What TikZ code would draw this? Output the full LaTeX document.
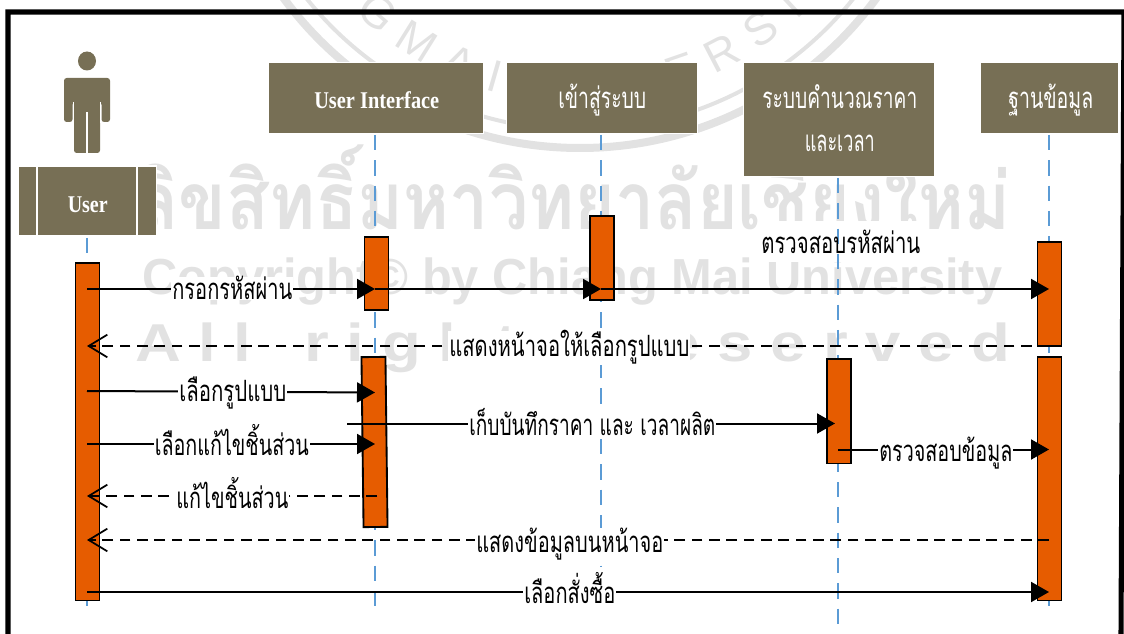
\documentclass[tikz,border=0pt]{standalone}
\usepackage{fontspec}
\usepackage{graphicx}
\usetikzlibrary{arrows.meta}
\setmainfont{Liberation Serif}
\newfontfamily\thaifont[Script=Thai]{Loma}
\newfontfamily\wmsans{Liberation Sans}
\definecolor{hdrcol}{HTML}{776F55}
\definecolor{barcol}{HTML}{E65C00}
\definecolor{lifecol}{HTML}{5B9BD5}
\definecolor{wmcol}{HTML}{E2E2E2}
\newcommand{\fitw}[2]{\resizebox{\dimexpr #1pt*3/4\relax}{\height}{#2}}
\tikzset{
  hdr/.style={fill=hdrcol,draw=white,line width=0.8pt,inner sep=0pt,anchor=north west},
  bar/.style={fill=barcol,draw=black,line width=1.4pt,inner sep=0pt,anchor=north west,minimum width=24*0.75pt},
  life/.style={draw=lifecol,line width=1.1pt,dash pattern=on 11.5pt off 7.5pt},
  msg/.style={draw=black,line width=1.5pt,-{Triangle[length=13.5pt,width=15pt]}},
  ret/.style={draw=black,line width=1.3pt,dash pattern=on 8pt off 5pt,-{Straight Barb[length=14pt,width=17pt,line width=1.3pt]}},
  lab/.style={fill=white,inner xsep=0.8pt,inner ysep=0pt,anchor=base west,font=\thaifont\fontsize{22}{22}\selectfont,text=black},
  htxt/.style={inner sep=0pt,anchor=base west,font=\thaifont\fontsize{22}{22}\selectfont,text=white},
  ltxt/.style={inner sep=0pt,anchor=base west,font=\bfseries\fontsize{18}{18}\selectfont,text=white},
  wm/.style={inner sep=0pt,anchor=base west,text=wmcol},
  seal/.style={draw=wmcol,line width=6pt},
  sealch/.style={inner sep=0pt,text=wmcol,font=\wmsans\fontsize{34}{34}\selectfont},
}
\begin{document}
\begin{tikzpicture}[x=0.75pt,y=-0.75pt]
\useasboundingbox (0,0) rectangle (1124,634);
% --- watermark ---
\begin{scope}
\clip (0,0) rectangle (1124,634);
\draw[seal] (580,-220) circle[radius=368*0.75pt];
\draw[seal,line width=3pt] (580,-220) circle[radius=350*0.75pt];
\foreach \ch/\ang in {G/-41,M/-32,A/-23,I/-16,U/-8,N/0,I/6,V/12,E/19,R/27.5,S/36,I/43}{
  \pgfmathsetmacro{\sx}{580+308*sin(\ang)}
  \pgfmathsetmacro{\sy}{-220+308*cos(\ang)}
  \node[sealch,rotate=\ang] at (\sx,\sy) {\ch};
}
\end{scope}
\node[wm,font=\thaifont\bfseries\fontsize{60}{60}\selectfont] (wm1) at (136,230) {\fitw{874}{ลิขสิทธิ์มหาวิทยาลัยเชียงใหม่}};
\node[wm,font=\wmsans\bfseries\fontsize{38}{38}\selectfont] (wm2) at (142,295) {\fitw{860}{Copyright© by Chiang Mai University}};
\node[wm,font=\wmsans\bfseries\fontsize{40}{40}\selectfont] (wm3) at (135,362) {\fitw{875}{A l l \ \ r i g h t s \ \ r e s e r v e d}};
% --- mask behind the label over the calculation lifeline ---
\fill[white] (758,221) rectangle (918,262);
% --- lifeline end points ---
\coordinate (uEnd) at (87,606);
\coordinate (iEnd) at (375,606);
\coordinate (lEnd) at (601,566);
\coordinate (cEnd) at (838,634);
\coordinate (dEnd) at (1049,606);
\coordinate (uTop) at (87,238);
\coordinate (iTop) at (375,135);
\coordinate (lTop) at (601,135);
\coordinate (cTop) at (838,178);
\coordinate (dTop) at (1049,135);
\draw[life] (uTop) -- (uEnd);
\draw[life] (iTop) -- (iEnd);
\draw[life] (lTop) -- (lEnd);
\draw[life] (cTop) -- (cEnd);
\draw[life] (dTop) -- (dEnd);
% --- activation bars ---
\node[bar,minimum height=337*0.75pt] (barU) at (74.5,262.5) {};
\node[bar,minimum height=73*0.75pt] (barI1) at (363.5,236.5) {};
\node[bar,anchor=center,minimum height=170*0.75pt,rotate=0.7] (barI2) at (374.5,442) {};
\node[bar,minimum height=84*0.75pt] (barL) at (589,215.5) {};
\node[bar,minimum height=104*0.75pt] (barD1) at (1036.5,241.5) {};
\node[bar,minimum height=243*0.75pt] (barD2) at (1036.5,356.5) {};
\node[bar,minimum height=104*0.75pt] (barC) at (826,358.5) {};
% --- header boxes ---
\node[hdr,minimum width=215*0.75pt,minimum height=71*0.75pt] (boxI) at (268,62) {};
\node[hdr,minimum width=191*0.75pt,minimum height=71*0.75pt] (boxL) at (505.5,62) {};
\node[hdr,minimum width=191*0.75pt,minimum height=114*0.75pt] (boxC) at (742.5,62) {};
\node[hdr,minimum width=138*0.75pt,minimum height=71*0.75pt] (boxD) at (979.5,62) {};
\node[hdr,minimum width=138*0.75pt,minimum height=70*0.75pt] (boxU) at (17.5,165.5) {};
\draw[white,line width=1.1pt] (37,166) -- (37,236) (137,166) -- (137,236);
% --- actor ---
\fill[hdrcol] (87,61) ellipse[x radius=9,y radius=9.5];
\fill[hdrcol,rounded corners=2pt] (64,122) -- (64,78) -- (110,78) -- (110,122) -- (101.5,122) -- (101.5,102) -- (100,102) -- (100,153) -- (74,153) -- (74,102) -- (72.5,102) -- (72.5,122) -- cycle;
\draw[white,line width=1pt] (87,112) -- (87,153);
\draw[white,line width=1pt] (73.5,102) -- (73.5,123) (100.5,102) -- (100.5,123);
% --- message end points ---
\coordinate (m1a) at (87,289);
\coordinate (m1b) at (375,289);
\coordinate (m1c) at (601,289);
\coordinate (m1d) at (1049,289);
\coordinate (m2a) at (1049,346);
\coordinate (m2b) at (87,346);
\coordinate (m3a) at (87,391);
\coordinate (m3b) at (375,392.5);
\coordinate (m4a) at (347,423.5);
\coordinate (m4b) at (835,423.5);
\coordinate (m5a) at (87,444);
\coordinate (m5b) at (375,444);
\coordinate (m6a) at (838,449.5);
\coordinate (m6b) at (1049,449.5);
\coordinate (m7a) at (377,496);
\coordinate (m7b) at (87,496);
\coordinate (m8a) at (1049,540);
\coordinate (m8b) at (87,540);
\coordinate (m9a) at (87,592);
\coordinate (m9b) at (1049,592);
\draw[msg] (m1a) -- (m1b);
\draw[msg] (m1b) -- (m1c);
\draw[msg] (m1c) -- (m1d);
\draw[ret] (m2a) -- (m2b);
\draw[msg] (m3a) -- (m3b);
\draw[msg] (m4a) -- (m4b);
\draw[msg] (m5a) -- (m5b);
\draw[msg] (m6a) -- (m6b);
\draw[ret] (m7a) -- (m7b);
\draw[ret] (m8a) -- (m8b);
\draw[msg] (m9a) -- (m9b);
% --- message labels ---
\node[lab] (t1) at (171,300) {\fitw{120}{กรอกรหัสผ่าน}};
\node[lab,fill=none] (t2) at (760,254) {\fitw{159}{ตรวจสอบรหัสผ่าน}};
\node[lab] (t3) at (448,357) {\fitw{240}{แสดงหน้าจอให้เลือกรูปแบบ}};
\node[lab] (t4) at (178,402) {\fitw{107}{เลือกรูปแบบ}};
\node[lab] (t5) at (468,435) {\fitw{246}{เก็บบันทึกราคา และ เวลาผลิต}};
\node[lab] (t6) at (153.5,455) {\fitw{154}{เลือกแก้ไขชิ้นส่วน}};
\node[lab] (t7) at (175,508) {\fitw{112}{แก้ไขชิ้นส่วน}};
\node[lab] (t8) at (475,552) {\fitw{187}{แสดงข้อมูลบนหน้าจอ}};
\node[lab] (t9) at (523,603) {\fitw{91}{เลือกสั่งซื้อ}};
\node[lab] (t10) at (878,461) {\fitw{133}{ตรวจสอบข้อมูล}};
% --- header labels ---
\node[ltxt] (hU) at (67.5,213) {\fitw{40}{User}};
\node[ltxt] (hI) at (314,109) {\fitw{125}{User Interface}};
\node[htxt] (hL) at (558,109) {\fitw{88}{เข้าสู่ระบบ}};
\node[htxt] (hC1) at (762,109) {\fitw{155}{ระบบคำนวณราคา}};
\node[htxt] (hC2) at (804.5,152) {\fitw{70}{และเวลา}};
\node[htxt] (hD) at (1008,109) {\fitw{85}{ฐานข้อมูล}};
% --- frame ---
\draw[black,line width=3.8pt] (8,634) -- (8,12) -- (1124,12) -- (1121,634);
\end{tikzpicture}
\end{document}
